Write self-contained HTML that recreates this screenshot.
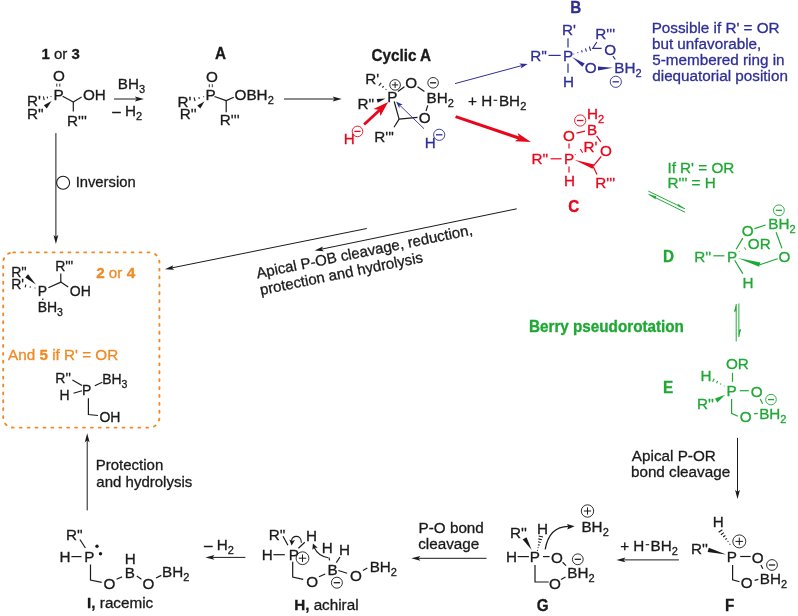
<!DOCTYPE html>
<html><head><meta charset="utf-8"><style>
html,body{margin:0;padding:0;background:#fff;}
svg{display:block;}
text{font-family:"Liberation Sans",sans-serif;}
</style></head><body>
<svg width="798" height="616" viewBox="0 0 798 616">
<rect width="798" height="616" fill="#fff"/>
<g opacity="0.999">
<text transform="translate(41.46,58.80) scale(1,1.0)" x="0" y="0" font-size="15" fill="#1a1a1a" stroke="#1a1a1a" stroke-width="0.3"><tspan font-weight="bold">1</tspan> or <tspan font-weight="bold">3</tspan></text>
<text transform="translate(52.88,81.00) scale(1,1.0)" x="0" y="0" font-size="15.25" fill="#1a1a1a" stroke="#1a1a1a" stroke-width="0.3">O</text>
<line x1="56.80" y1="83.60" x2="56.80" y2="86.60" stroke="#1a1a1a" stroke-width="0.9"/>
<line x1="59.80" y1="83.60" x2="59.80" y2="86.60" stroke="#1a1a1a" stroke-width="0.9"/>
<text transform="translate(53.45,100.20) scale(1,1.0)" x="0" y="0" font-size="15.25" fill="#1a1a1a" stroke="#1a1a1a" stroke-width="0.3">P</text>
<text transform="translate(26.95,106.00) scale(1,1.0)" x="0" y="0" font-size="15.25" fill="#1a1a1a" stroke="#1a1a1a" stroke-width="0.3">R'</text>
<line x1="51.09" y1="96.99" x2="50.91" y2="96.21" stroke="#1a1a1a" stroke-width="1.1"/>
<line x1="47.62" y1="98.37" x2="47.18" y2="96.53" stroke="#1a1a1a" stroke-width="1.1"/>
<line x1="44.24" y1="100.15" x2="43.36" y2="96.45" stroke="#1a1a1a" stroke-width="1.1"/>
<text transform="translate(26.95,119.10) scale(1,1.0)" x="0" y="0" font-size="15.25" fill="#1a1a1a" stroke="#1a1a1a" stroke-width="0.3">R''</text>
<polygon points="51.60,101.00 43.80,105.29 46.80,108.51" fill="#1a1a1a"/>
<text transform="translate(82.98,100.00) scale(1,1.0)" x="0" y="0" font-size="15.25" fill="#1a1a1a" stroke="#1a1a1a" stroke-width="0.3">OH</text>
<line x1="62.60" y1="96.30" x2="73.30" y2="102.00" stroke="#1a1a1a" stroke-width="1.2"/>
<line x1="73.30" y1="102.00" x2="81.60" y2="97.00" stroke="#1a1a1a" stroke-width="1.2"/>
<line x1="73.30" y1="102.00" x2="73.30" y2="111.40" stroke="#1a1a1a" stroke-width="1.2"/>
<text transform="translate(67.05,126.20) scale(1,1.0)" x="0" y="0" font-size="15.25" fill="#1a1a1a" stroke="#1a1a1a" stroke-width="0.3">R'''</text>
<text transform="translate(117.75,89.00) scale(1,1.0)" x="0" y="0" font-size="15.25" fill="#1a1a1a" stroke="#1a1a1a" stroke-width="0.3">BH<tspan font-size="11" dy="4">3</tspan></text>
<line x1="114.00" y1="99.00" x2="136.70" y2="99.00" stroke="#1a1a1a" stroke-width="1.0"/>
<polygon points="143.90,99.00 134.90,101.40 136.70,99.00 134.90,96.60" fill="#1a1a1a"/>
<text transform="translate(112.20,116.20) scale(1,1.0)" x="0" y="0" font-size="15.25" fill="#1a1a1a" stroke="#1a1a1a" stroke-width="0.3">– H<tspan font-size="11" dy="4">2</tspan></text>
<text transform="translate(214.92,58.50) scale(1,1.05)" x="0" y="0" font-size="15.25" fill="#1a1a1a" stroke="#1a1a1a" stroke-width="0.3" font-weight="bold">A</text>
<text transform="translate(206.08,81.80) scale(1,1.0)" x="0" y="0" font-size="15.25" fill="#1a1a1a" stroke="#1a1a1a" stroke-width="0.3">O</text>
<line x1="209.30" y1="84.20" x2="209.30" y2="87.20" stroke="#1a1a1a" stroke-width="0.9"/>
<line x1="212.30" y1="84.20" x2="212.30" y2="87.20" stroke="#1a1a1a" stroke-width="0.9"/>
<text transform="translate(205.55,99.70) scale(1,1.0)" x="0" y="0" font-size="15.25" fill="#1a1a1a" stroke="#1a1a1a" stroke-width="0.3">P</text>
<text transform="translate(177.55,107.00) scale(1,1.0)" x="0" y="0" font-size="15.25" fill="#1a1a1a" stroke="#1a1a1a" stroke-width="0.3">R'</text>
<line x1="203.70" y1="97.19" x2="203.50" y2="96.41" stroke="#1a1a1a" stroke-width="1.1"/>
<line x1="199.34" y1="98.92" x2="198.86" y2="97.08" stroke="#1a1a1a" stroke-width="1.1"/>
<line x1="195.09" y1="101.04" x2="194.11" y2="97.36" stroke="#1a1a1a" stroke-width="1.1"/>
<text transform="translate(179.75,119.40) scale(1,1.0)" x="0" y="0" font-size="15.25" fill="#1a1a1a" stroke="#1a1a1a" stroke-width="0.3">R''</text>
<polygon points="204.40,101.60 197.27,105.42 200.33,108.58" fill="#1a1a1a"/>
<text transform="translate(234.58,100.40) scale(1,1.0)" x="0" y="0" font-size="15.25" fill="#1a1a1a" stroke="#1a1a1a" stroke-width="0.3">OBH<tspan font-size="11" dy="4">2</tspan></text>
<line x1="214.50" y1="96.50" x2="226.20" y2="100.60" stroke="#1a1a1a" stroke-width="1.2"/>
<line x1="226.20" y1="100.60" x2="233.80" y2="97.20" stroke="#1a1a1a" stroke-width="1.2"/>
<line x1="226.20" y1="100.60" x2="226.20" y2="112.30" stroke="#1a1a1a" stroke-width="1.2"/>
<text transform="translate(219.85,125.30) scale(1,1.0)" x="0" y="0" font-size="15.25" fill="#1a1a1a" stroke="#1a1a1a" stroke-width="0.3">R'''</text>
<line x1="284.00" y1="99.00" x2="334.50" y2="99.00" stroke="#1a1a1a" stroke-width="1.0"/>
<polygon points="341.70,99.00 332.70,101.40 334.50,99.00 332.70,96.60" fill="#1a1a1a"/>
<text transform="translate(371.47,60.50) scale(1,1.05)" x="0" y="0" font-size="15.25" fill="#1a1a1a" stroke="#1a1a1a" stroke-width="0.3" font-weight="bold">Cyclic A</text>
<text transform="translate(365.25,83.80) scale(1,1.0)" x="0" y="0" font-size="15.25" fill="#1a1a1a" stroke="#1a1a1a" stroke-width="0.3">R'</text>
<line x1="385.74" y1="89.80" x2="386.26" y2="89.20" stroke="#1a1a1a" stroke-width="1.1"/>
<line x1="382.38" y1="87.62" x2="383.62" y2="86.18" stroke="#1a1a1a" stroke-width="1.1"/>
<line x1="378.76" y1="85.74" x2="381.24" y2="82.86" stroke="#1a1a1a" stroke-width="1.1"/>
<circle cx="395.10" cy="84.90" r="5.3" fill="none" stroke="#1a1a1a" stroke-width="0.9"/>
<line x1="392.03" y1="84.90" x2="398.17" y2="84.90" stroke="#1a1a1a" stroke-width="1.0"/>
<line x1="395.10" y1="81.83" x2="395.10" y2="87.97" stroke="#1a1a1a" stroke-width="1.0"/>
<text transform="translate(405.28,88.30) scale(1,1.0)" x="0" y="0" font-size="15.25" fill="#1a1a1a" stroke="#1a1a1a" stroke-width="0.3">O</text>
<circle cx="433.10" cy="82.80" r="5.3" fill="none" stroke="#1a1a1a" stroke-width="0.9"/>
<line x1="430.03" y1="82.80" x2="436.17" y2="82.80" stroke="#1a1a1a" stroke-width="1.3"/>
<text transform="translate(387.35,102.40) scale(1,1.0)" x="0" y="0" font-size="15.25" fill="#1a1a1a" stroke="#1a1a1a" stroke-width="0.3">P</text>
<text transform="translate(357.45,108.90) scale(1,1.0)" x="0" y="0" font-size="15.25" fill="#1a1a1a" stroke="#1a1a1a" stroke-width="0.3">R''</text>
<polygon points="385.50,98.60 376.69,99.07 377.71,102.73" fill="#1a1a1a"/>
<text transform="translate(426.55,103.30) scale(1,1.0)" x="0" y="0" font-size="15.25" fill="#1a1a1a" stroke="#1a1a1a" stroke-width="0.3">BH<tspan font-size="11" dy="4">2</tspan></text>
<text transform="translate(418.68,122.80) scale(1,1.0)" x="0" y="0" font-size="15.25" fill="#1a1a1a" stroke="#1a1a1a" stroke-width="0.3">O</text>
<line x1="397.90" y1="91.40" x2="404.40" y2="86.70" stroke="#1a1a1a" stroke-width="1.2"/>
<line x1="417.50" y1="86.70" x2="424.40" y2="91.60" stroke="#1a1a1a" stroke-width="1.2"/>
<line x1="427.80" y1="105.40" x2="426.00" y2="111.00" stroke="#1a1a1a" stroke-width="1.2"/>
<line x1="394.20" y1="101.50" x2="399.10" y2="119.10" stroke="#1a1a1a" stroke-width="1.2"/>
<line x1="399.10" y1="119.10" x2="417.50" y2="117.40" stroke="#1a1a1a" stroke-width="1.2"/>
<line x1="399.10" y1="119.10" x2="394.00" y2="127.30" stroke="#1a1a1a" stroke-width="1.2"/>
<text transform="translate(374.25,141.60) scale(1,1.0)" x="0" y="0" font-size="15.25" fill="#1a1a1a" stroke="#1a1a1a" stroke-width="0.3">R'''</text>
<text transform="translate(343.85,144.40) scale(1,1.0)" x="0" y="0" font-size="15.25" fill="#e8061a" stroke="#e8061a" stroke-width="0.3">H</text>
<circle cx="357.50" cy="131.40" r="5.3" fill="none" stroke="#e8061a" stroke-width="0.9"/>
<line x1="354.43" y1="131.40" x2="360.57" y2="131.40" stroke="#e8061a" stroke-width="1.3"/>
<line x1="364.10" y1="124.50" x2="379.78" y2="109.93" stroke="#e8061a" stroke-width="2.8"/>
<polygon points="388.20,102.10 380.25,116.31 379.78,109.93 373.44,108.99" fill="#e8061a"/>
<text transform="translate(424.65,147.90) scale(1,1.0)" x="0" y="0" font-size="15.25" fill="#2e2e98" stroke="#2e2e98" stroke-width="0.3">H</text>
<circle cx="439.20" cy="134.80" r="5.6" fill="none" stroke="#2e2e98" stroke-width="0.9"/>
<line x1="435.95" y1="134.80" x2="442.45" y2="134.80" stroke="#2e2e98" stroke-width="1.3"/>
<line x1="424.00" y1="128.70" x2="399.74" y2="105.22" stroke="#2e2e98" stroke-width="0.9"/>
<polygon points="396.00,101.60 402.77,104.67 399.74,105.22 399.29,108.26" fill="#2e2e98"/>
<text transform="translate(468.06,105.70) scale(1,1.0)" x="0" y="0" font-size="15.25" fill="#1a1a1a" stroke="#1a1a1a" stroke-width="0.3">+ H</text>
<line x1="493.60" y1="100.30" x2="497.20" y2="100.30" stroke="#1a1a1a" stroke-width="1.1"/>
<text transform="translate(498.95,105.70) scale(1,1.0)" x="0" y="0" font-size="15.25" fill="#1a1a1a" stroke="#1a1a1a" stroke-width="0.3">BH<tspan font-size="11" dy="4">2</tspan></text>
<line x1="455.00" y1="83.60" x2="521.71" y2="65.61" stroke="#2e2e98" stroke-width="1.0"/>
<polygon points="527.70,64.00 520.65,68.59 521.71,65.61 519.30,63.57" fill="#2e2e98"/>
<line x1="455.60" y1="116.60" x2="519.53" y2="138.25" stroke="#e8061a" stroke-width="3.0"/>
<polygon points="530.90,142.10 514.84,141.20 519.53,138.25 517.60,133.06" fill="#e8061a"/>
<text transform="translate(570.28,12.70) scale(1,1.05)" x="0" y="0" font-size="15.25" fill="#2e2e98" stroke="#2e2e98" stroke-width="0.3" font-weight="bold">B</text>
<text transform="translate(561.95,35.10) scale(1,1.0)" x="0" y="0" font-size="15.25" fill="#2e2e98" stroke="#2e2e98" stroke-width="0.3">R'</text>
<line x1="568.00" y1="38.30" x2="568.00" y2="47.40" stroke="#2e2e98" stroke-width="1.2"/>
<text transform="translate(562.95,61.40) scale(1,1.0)" x="0" y="0" font-size="15.25" fill="#2e2e98" stroke="#2e2e98" stroke-width="0.3">P</text>
<text transform="translate(530.15,61.40) scale(1,1.0)" x="0" y="0" font-size="15.25" fill="#2e2e98" stroke="#2e2e98" stroke-width="0.3">R''</text>
<line x1="548.50" y1="55.40" x2="560.70" y2="55.40" stroke="#2e2e98" stroke-width="1.2"/>
<line x1="568.00" y1="63.40" x2="568.00" y2="72.80" stroke="#2e2e98" stroke-width="1.2"/>
<text transform="translate(562.95,87.00) scale(1,1.0)" x="0" y="0" font-size="15.25" fill="#2e2e98" stroke="#2e2e98" stroke-width="0.3">H</text>
<text transform="translate(595.35,38.90) scale(1,1.0)" x="0" y="0" font-size="15.25" fill="#2e2e98" stroke="#2e2e98" stroke-width="0.3">R'''</text>
<text transform="translate(604.18,55.20) scale(1,1.0)" x="0" y="0" font-size="15.25" fill="#2e2e98" stroke="#2e2e98" stroke-width="0.3">O</text>
<polyline points="596.80,42.00 592.80,48.30 601.60,48.30" fill="none" stroke="#2e2e98" stroke-width="1.2" stroke-linejoin="miter"/>
<line x1="573.67" y1="53.62" x2="573.93" y2="54.38" stroke="#2e2e98" stroke-width="1.1"/>
<line x1="577.67" y1="52.12" x2="578.03" y2="53.18" stroke="#2e2e98" stroke-width="1.1"/>
<line x1="581.54" y1="50.23" x2="582.26" y2="52.37" stroke="#2e2e98" stroke-width="1.1"/>
<line x1="585.42" y1="48.35" x2="586.48" y2="51.55" stroke="#2e2e98" stroke-width="1.1"/>
<line x1="589.29" y1="46.47" x2="590.71" y2="50.73" stroke="#2e2e98" stroke-width="1.1"/>
<polygon points="572.10,57.00 582.33,66.82 584.67,63.58" fill="#2e2e98"/>
<text transform="translate(584.68,73.40) scale(1,1.0)" x="0" y="0" font-size="15.25" fill="#2e2e98" stroke="#2e2e98" stroke-width="0.3">O</text>
<polygon points="613.00,67.80 597.92,66.40 598.08,70.40" fill="#2e2e98"/>
<text transform="translate(614.35,73.10) scale(1,1.0)" x="0" y="0" font-size="15.25" fill="#2e2e98" stroke="#2e2e98" stroke-width="0.3">BH<tspan font-size="11" dy="4">2</tspan></text>
<circle cx="615.80" cy="81.80" r="5.6" fill="none" stroke="#2e2e98" stroke-width="0.9"/>
<line x1="612.55" y1="81.80" x2="619.05" y2="81.80" stroke="#2e2e98" stroke-width="1.3"/>
<line x1="612.90" y1="56.20" x2="615.30" y2="59.50" stroke="#2e2e98" stroke-width="1.2"/>
<text transform="translate(651.65,32.60) scale(1,1.0)" x="0" y="0" font-size="15.25" fill="#2e2e98" stroke="#2e2e98" stroke-width="0.3">Possible if R' = OR</text>
<text transform="translate(651.92,48.60) scale(1,1.0)" x="0" y="0" font-size="15.25" fill="#2e2e98" stroke="#2e2e98" stroke-width="0.3">but unfavorable,</text>
<text transform="translate(652.29,65.00) scale(1,1.0)" x="0" y="0" font-size="15.25" fill="#2e2e98" stroke="#2e2e98" stroke-width="0.3">5-membered ring in</text>
<text transform="translate(652.26,81.10) scale(1,1.0)" x="0" y="0" font-size="15.25" fill="#2e2e98" stroke="#2e2e98" stroke-width="0.3">diequatorial position</text>
<text transform="translate(587.05,118.50) scale(1,1.0)" x="0" y="0" font-size="15.25" fill="#e8061a" stroke="#e8061a" stroke-width="0.3">H<tspan font-size="11" dy="4">2</tspan></text>
<circle cx="580.20" cy="120.50" r="5.6" fill="none" stroke="#e8061a" stroke-width="0.9"/>
<line x1="576.95" y1="120.50" x2="583.45" y2="120.50" stroke="#e8061a" stroke-width="1.3"/>
<text transform="translate(587.05,134.50) scale(1,1.0)" x="0" y="0" font-size="15.25" fill="#e8061a" stroke="#e8061a" stroke-width="0.3">B</text>
<text transform="translate(562.88,141.40) scale(1,1.0)" x="0" y="0" font-size="15.25" fill="#e8061a" stroke="#e8061a" stroke-width="0.3">O</text>
<line x1="576.50" y1="133.10" x2="585.00" y2="131.10" stroke="#e8061a" stroke-width="1.2"/>
<line x1="596.60" y1="135.80" x2="600.80" y2="141.80" stroke="#e8061a" stroke-width="1.2"/>
<text transform="translate(600.08,155.80) scale(1,1.0)" x="0" y="0" font-size="15.25" fill="#e8061a" stroke="#e8061a" stroke-width="0.3">O</text>
<text transform="translate(583.45,151.80) scale(1,1.0)" x="0" y="0" font-size="15.25" fill="#e8061a" stroke="#e8061a" stroke-width="0.3">R'</text>
<line x1="575.09" y1="154.36" x2="575.51" y2="155.04" stroke="#e8061a" stroke-width="1.1"/>
<line x1="580.32" y1="148.98" x2="582.68" y2="152.82" stroke="#e8061a" stroke-width="1.1"/>
<text transform="translate(563.95,163.70) scale(1,1.0)" x="0" y="0" font-size="15.25" fill="#e8061a" stroke="#e8061a" stroke-width="0.3">P</text>
<line x1="569.00" y1="143.50" x2="569.00" y2="148.60" stroke="#e8061a" stroke-width="1.2"/>
<text transform="translate(531.45,163.70) scale(1,1.0)" x="0" y="0" font-size="15.25" fill="#e8061a" stroke="#e8061a" stroke-width="0.3">R''</text>
<line x1="550.60" y1="158.80" x2="561.60" y2="158.80" stroke="#e8061a" stroke-width="1.2"/>
<line x1="569.00" y1="166.50" x2="569.00" y2="172.40" stroke="#e8061a" stroke-width="1.2"/>
<text transform="translate(563.95,185.90) scale(1,1.0)" x="0" y="0" font-size="15.25" fill="#e8061a" stroke="#e8061a" stroke-width="0.3">H</text>
<polygon points="574.40,159.70 592.53,168.71 594.07,164.49" fill="#e8061a"/>
<line x1="593.30" y1="166.20" x2="601.20" y2="156.50" stroke="#e8061a" stroke-width="1.2"/>
<line x1="593.30" y1="166.80" x2="597.00" y2="174.50" stroke="#e8061a" stroke-width="1.2"/>
<text transform="translate(595.35,188.40) scale(1,1.0)" x="0" y="0" font-size="15.25" fill="#e8061a" stroke="#e8061a" stroke-width="0.3">R'''</text>
<text transform="translate(568.17,212.30) scale(1,1.05)" x="0" y="0" font-size="15.25" fill="#e8061a" stroke="#e8061a" stroke-width="0.3" font-weight="bold">C</text>
<line x1="648.30" y1="191.10" x2="685.10" y2="208.90" stroke="#1ea834" stroke-width="0.95"/>
<line x1="648.60" y1="194.30" x2="685.10" y2="212.30" stroke="#1ea834" stroke-width="0.95"/>
<polygon points="685.1,208.9 677.5,203.6 678.5,206.6" fill="#1ea834"/>
<polygon points="648.6,194.3 656.2,196.2 655.5,199.3" fill="#1ea834"/>
<text transform="translate(667.39,173.40) scale(1,1.0)" x="0" y="0" font-size="15.25" fill="#1ea834" stroke="#1ea834" stroke-width="0.3">If R' = OR</text>
<text transform="translate(667.55,187.90) scale(1,1.0)" x="0" y="0" font-size="15.25" fill="#1ea834" stroke="#1ea834" stroke-width="0.3">R''' = H</text>
<circle cx="778.90" cy="210.30" r="5.4" fill="none" stroke="#1ea834" stroke-width="0.9"/>
<line x1="775.77" y1="210.30" x2="782.03" y2="210.30" stroke="#1ea834" stroke-width="1.3"/>
<text transform="translate(768.35,228.80) scale(1,1.0)" x="0" y="0" font-size="15.25" fill="#1ea834" stroke="#1ea834" stroke-width="0.3">BH<tspan font-size="11" dy="4">2</tspan></text>
<text transform="translate(741.68,235.80) scale(1,1.0)" x="0" y="0" font-size="15.25" fill="#1ea834" stroke="#1ea834" stroke-width="0.3">O</text>
<line x1="754.40" y1="228.60" x2="765.70" y2="225.00" stroke="#1ea834" stroke-width="1.2"/>
<text transform="translate(747.78,249.40) scale(1,1.0)" x="0" y="0" font-size="15.25" fill="#1ea834" stroke="#1ea834" stroke-width="0.3">OR</text>
<line x1="739.00" y1="251.20" x2="739.60" y2="251.80" stroke="#1ea834" stroke-width="1.0"/>
<line x1="744.30" y1="247.40" x2="745.80" y2="249.80" stroke="#1ea834" stroke-width="1.0"/>
<text transform="translate(694.25,261.60) scale(1,1.0)" x="0" y="0" font-size="15.25" fill="#1ea834" stroke="#1ea834" stroke-width="0.3">R''</text>
<line x1="713.30" y1="255.80" x2="724.40" y2="255.80" stroke="#1ea834" stroke-width="1.2"/>
<text transform="translate(727.05,261.60) scale(1,1.0)" x="0" y="0" font-size="15.25" fill="#1ea834" stroke="#1ea834" stroke-width="0.3">P</text>
<line x1="736.20" y1="249.20" x2="742.80" y2="238.10" stroke="#1ea834" stroke-width="1.2"/>
<polygon points="737.70,258.10 759.16,266.86 760.44,262.54" fill="#1ea834"/>
<line x1="759.80" y1="264.70" x2="777.60" y2="258.80" stroke="#1ea834" stroke-width="1.2"/>
<text transform="translate(778.58,262.30) scale(1,1.0)" x="0" y="0" font-size="15.25" fill="#1ea834" stroke="#1ea834" stroke-width="0.3">O</text>
<line x1="776.10" y1="232.20" x2="782.00" y2="248.40" stroke="#1ea834" stroke-width="1.2"/>
<line x1="734.70" y1="260.30" x2="742.80" y2="273.60" stroke="#1ea834" stroke-width="1.2"/>
<text transform="translate(742.55,288.20) scale(1,1.0)" x="0" y="0" font-size="15.25" fill="#1ea834" stroke="#1ea834" stroke-width="0.3">H</text>
<text transform="translate(662.98,262.40) scale(1,1.05)" x="0" y="0" font-size="15.25" fill="#1ea834" stroke="#1ea834" stroke-width="0.3" font-weight="bold">D</text>
<text transform="translate(528.98,332.00) scale(1,1.05)" x="0" y="0" font-size="15.25" fill="#1ea834" stroke="#1ea834" stroke-width="0.3" font-weight="bold">Berry pseudorotation</text>
<line x1="736.20" y1="303.90" x2="736.20" y2="341.40" stroke="#1ea834" stroke-width="0.95"/>
<line x1="738.90" y1="303.50" x2="738.90" y2="337.00" stroke="#1ea834" stroke-width="0.95"/>
<polygon points="736.2,303.9 733.9,312 736.2,311" fill="#1ea834"/>
<polygon points="738.9,337 741.2,329 738.9,330" fill="#1ea834"/>
<text transform="translate(663.08,393.20) scale(1,1.05)" x="0" y="0" font-size="15.25" fill="#1ea834" stroke="#1ea834" stroke-width="0.3" font-weight="bold">E</text>
<text transform="translate(725.88,369.30) scale(1,1.0)" x="0" y="0" font-size="15.25" fill="#1ea834" stroke="#1ea834" stroke-width="0.3">OR</text>
<line x1="732.50" y1="372.80" x2="732.50" y2="381.80" stroke="#1ea834" stroke-width="1.2"/>
<text transform="translate(700.45,381.00) scale(1,1.0)" x="0" y="0" font-size="15.25" fill="#1ea834" stroke="#1ea834" stroke-width="0.3">H</text>
<line x1="724.01" y1="386.35" x2="724.39" y2="385.65" stroke="#1ea834" stroke-width="1.1"/>
<line x1="720.35" y1="384.59" x2="720.92" y2="383.54" stroke="#1ea834" stroke-width="1.1"/>
<line x1="716.49" y1="383.19" x2="717.64" y2="381.08" stroke="#1ea834" stroke-width="1.1"/>
<line x1="712.64" y1="381.78" x2="714.36" y2="378.62" stroke="#1ea834" stroke-width="1.1"/>
<text transform="translate(726.55,396.40) scale(1,1.0)" x="0" y="0" font-size="15.25" fill="#1ea834" stroke="#1ea834" stroke-width="0.3">P</text>
<line x1="739.80" y1="390.70" x2="748.80" y2="390.70" stroke="#1ea834" stroke-width="1.2"/>
<text transform="translate(750.68,397.00) scale(1,1.0)" x="0" y="0" font-size="15.25" fill="#1ea834" stroke="#1ea834" stroke-width="0.3">O</text>
<circle cx="771.00" cy="399.60" r="5.3" fill="none" stroke="#1ea834" stroke-width="0.9"/>
<line x1="767.93" y1="399.60" x2="774.07" y2="399.60" stroke="#1ea834" stroke-width="1.3"/>
<line x1="760.20" y1="398.90" x2="762.60" y2="403.80" stroke="#1ea834" stroke-width="1.2"/>
<text transform="translate(697.05,408.80) scale(1,1.0)" x="0" y="0" font-size="15.25" fill="#1ea834" stroke="#1ea834" stroke-width="0.3">R''</text>
<polygon points="725.20,394.80 715.00,398.60 717.40,402.40" fill="#1ea834"/>
<polyline points="731.60,398.90 731.60,413.40 737.80,416.20" fill="none" stroke="#1ea834" stroke-width="1.2" stroke-linejoin="miter"/>
<text transform="translate(739.78,421.50) scale(1,1.0)" x="0" y="0" font-size="15.25" fill="#1ea834" stroke="#1ea834" stroke-width="0.3">O</text>
<line x1="754.00" y1="413.90" x2="757.80" y2="413.40" stroke="#1ea834" stroke-width="1.2"/>
<text transform="translate(759.15,418.80) scale(1,1.0)" x="0" y="0" font-size="15.25" fill="#1ea834" stroke="#1ea834" stroke-width="0.3">BH<tspan font-size="11" dy="4">2</tspan></text>
<text transform="translate(631.87,460.50) scale(1,1.0)" x="0" y="0" font-size="15.25" fill="#1a1a1a" stroke="#1a1a1a" stroke-width="0.3">Apical P-OR</text>
<text transform="translate(630.92,477.20) scale(1,1.0)" x="0" y="0" font-size="15.25" fill="#1a1a1a" stroke="#1a1a1a" stroke-width="0.3">bond cleavage</text>
<line x1="737.50" y1="437.90" x2="737.50" y2="491.80" stroke="#1a1a1a" stroke-width="1.0"/>
<polygon points="737.50,499.00 735.10,490.00 737.50,491.80 739.90,490.00" fill="#1a1a1a"/>
<text transform="translate(712.65,527.20) scale(1,1.0)" x="0" y="0" font-size="15.25" fill="#1a1a1a" stroke="#1a1a1a" stroke-width="0.3">H</text>
<line x1="729.57" y1="544.43" x2="730.23" y2="543.97" stroke="#1a1a1a" stroke-width="1.1"/>
<line x1="727.65" y1="541.82" x2="728.39" y2="541.30" stroke="#1a1a1a" stroke-width="1.1"/>
<line x1="725.41" y1="539.44" x2="726.87" y2="538.40" stroke="#1a1a1a" stroke-width="1.1"/>
<line x1="723.16" y1="537.06" x2="725.36" y2="535.50" stroke="#1a1a1a" stroke-width="1.1"/>
<line x1="720.91" y1="534.68" x2="723.85" y2="532.60" stroke="#1a1a1a" stroke-width="1.1"/>
<line x1="718.67" y1="532.31" x2="722.33" y2="529.69" stroke="#1a1a1a" stroke-width="1.1"/>
<circle cx="739.30" cy="541.40" r="6.5" fill="none" stroke="#1a1a1a" stroke-width="0.9"/>
<line x1="735.53" y1="541.40" x2="743.07" y2="541.40" stroke="#1a1a1a" stroke-width="1.0"/>
<line x1="739.30" y1="537.63" x2="739.30" y2="545.17" stroke="#1a1a1a" stroke-width="1.0"/>
<text transform="translate(691.05,553.80) scale(1,1.0)" x="0" y="0" font-size="15.25" fill="#1a1a1a" stroke="#1a1a1a" stroke-width="0.3">R''</text>
<polygon points="726.10,554.60 708.77,547.72 707.63,552.08" fill="#1a1a1a"/>
<text transform="translate(726.75,562.10) scale(1,1.0)" x="0" y="0" font-size="15.25" fill="#1a1a1a" stroke="#1a1a1a" stroke-width="0.3">P</text>
<line x1="740.20" y1="556.50" x2="750.60" y2="556.50" stroke="#1a1a1a" stroke-width="1.2"/>
<text transform="translate(751.78,562.80) scale(1,1.0)" x="0" y="0" font-size="15.25" fill="#1a1a1a" stroke="#1a1a1a" stroke-width="0.3">O</text>
<circle cx="772.00" cy="565.00" r="5.4" fill="none" stroke="#1a1a1a" stroke-width="0.9"/>
<line x1="768.87" y1="565.00" x2="775.13" y2="565.00" stroke="#1a1a1a" stroke-width="1.3"/>
<line x1="760.90" y1="564.90" x2="762.80" y2="568.70" stroke="#1a1a1a" stroke-width="1.2"/>
<polyline points="732.60,564.90 732.60,579.70 739.50,581.80" fill="none" stroke="#1a1a1a" stroke-width="1.2" stroke-linejoin="miter"/>
<text transform="translate(740.68,587.50) scale(1,1.0)" x="0" y="0" font-size="15.25" fill="#1a1a1a" stroke="#1a1a1a" stroke-width="0.3">O</text>
<line x1="754.60" y1="580.30" x2="758.30" y2="579.30" stroke="#1a1a1a" stroke-width="1.2"/>
<text transform="translate(759.75,584.20) scale(1,1.0)" x="0" y="0" font-size="15.25" fill="#1a1a1a" stroke="#1a1a1a" stroke-width="0.3">BH<tspan font-size="11" dy="4">2</tspan></text>
<text transform="translate(725.08,611.00) scale(1,1.05)" x="0" y="0" font-size="15.25" fill="#1a1a1a" stroke="#1a1a1a" stroke-width="0.3" font-weight="bold">F</text>
<text transform="translate(620.16,550.70) scale(1,1.0)" x="0" y="0" font-size="15.25" fill="#1a1a1a" stroke="#1a1a1a" stroke-width="0.3">+ H</text>
<line x1="645.70" y1="544.70" x2="649.20" y2="544.70" stroke="#1a1a1a" stroke-width="1.1"/>
<text transform="translate(650.55,550.70) scale(1,1.0)" x="0" y="0" font-size="15.25" fill="#1a1a1a" stroke="#1a1a1a" stroke-width="0.3">BH<tspan font-size="11" dy="4">2</tspan></text>
<line x1="678.90" y1="559.90" x2="623.60" y2="559.90" stroke="#1a1a1a" stroke-width="1.0"/>
<polygon points="616.40,559.90 625.40,557.50 623.60,559.90 625.40,562.30" fill="#1a1a1a"/>
<circle cx="587.50" cy="511.00" r="6.2" fill="none" stroke="#1a1a1a" stroke-width="0.9"/>
<line x1="583.90" y1="511.00" x2="591.10" y2="511.00" stroke="#1a1a1a" stroke-width="1.0"/>
<line x1="587.50" y1="507.40" x2="587.50" y2="514.60" stroke="#1a1a1a" stroke-width="1.0"/>
<text transform="translate(581.45,531.80) scale(1,1.0)" x="0" y="0" font-size="15.25" fill="#1a1a1a" stroke="#1a1a1a" stroke-width="0.3">BH<tspan font-size="11" dy="4">2</tspan></text>
<path d="M545.2,549.4 Q549,526.5 568.5,526.3" fill="none" stroke="#1a1a1a" stroke-width="1.25"/>
<polygon points="574.60,526.30 567.25,529.47 568.31,526.61 566.97,523.88" fill="#1a1a1a"/>
<text transform="translate(536.95,533.70) scale(1,1.0)" x="0" y="0" font-size="15.25" fill="#1a1a1a" stroke="#1a1a1a" stroke-width="0.3">H</text>
<line x1="537.01" y1="550.41" x2="537.79" y2="550.59" stroke="#1a1a1a" stroke-width="1.1"/>
<line x1="537.64" y1="547.59" x2="538.52" y2="547.81" stroke="#1a1a1a" stroke-width="1.1"/>
<line x1="537.89" y1="544.69" x2="539.63" y2="545.11" stroke="#1a1a1a" stroke-width="1.1"/>
<line x1="538.13" y1="541.78" x2="540.75" y2="542.42" stroke="#1a1a1a" stroke-width="1.1"/>
<line x1="538.37" y1="538.88" x2="541.87" y2="539.72" stroke="#1a1a1a" stroke-width="1.1"/>
<line x1="538.61" y1="535.97" x2="542.99" y2="537.03" stroke="#1a1a1a" stroke-width="1.1"/>
<text transform="translate(510.05,538.40) scale(1,1.0)" x="0" y="0" font-size="15.25" fill="#1a1a1a" stroke="#1a1a1a" stroke-width="0.3">R''</text>
<polygon points="531.60,549.80 526.52,537.13 522.68,539.47" fill="#1a1a1a"/>
<text transform="translate(506.05,562.10) scale(1,1.0)" x="0" y="0" font-size="15.25" fill="#1a1a1a" stroke="#1a1a1a" stroke-width="0.3">H</text>
<line x1="517.60" y1="556.60" x2="528.90" y2="556.60" stroke="#1a1a1a" stroke-width="1.2"/>
<text transform="translate(529.65,562.10) scale(1,1.0)" x="0" y="0" font-size="15.25" fill="#1a1a1a" stroke="#1a1a1a" stroke-width="0.3">P</text>
<line x1="543.00" y1="556.60" x2="549.60" y2="556.60" stroke="#1a1a1a" stroke-width="1.2"/>
<text transform="translate(550.88,563.00) scale(1,1.0)" x="0" y="0" font-size="15.25" fill="#1a1a1a" stroke="#1a1a1a" stroke-width="0.3">O</text>
<circle cx="577.80" cy="559.30" r="5.4" fill="none" stroke="#1a1a1a" stroke-width="0.9"/>
<line x1="574.67" y1="559.30" x2="580.93" y2="559.30" stroke="#1a1a1a" stroke-width="1.3"/>
<line x1="562.60" y1="562.30" x2="566.00" y2="565.60" stroke="#1a1a1a" stroke-width="1.2"/>
<polyline points="535.00,565.00 535.00,582.00 548.70,582.00" fill="none" stroke="#1a1a1a" stroke-width="1.2" stroke-linejoin="miter"/>
<text transform="translate(548.98,589.30) scale(1,1.0)" x="0" y="0" font-size="15.25" fill="#1a1a1a" stroke="#1a1a1a" stroke-width="0.3">O</text>
<line x1="561.00" y1="579.50" x2="565.50" y2="577.00" stroke="#1a1a1a" stroke-width="1.2"/>
<text transform="translate(567.25,578.40) scale(1,1.0)" x="0" y="0" font-size="15.25" fill="#1a1a1a" stroke="#1a1a1a" stroke-width="0.3">BH<tspan font-size="11" dy="4">2</tspan></text>
<text transform="translate(536.77,611.20) scale(1,1.05)" x="0" y="0" font-size="15.25" fill="#1a1a1a" stroke="#1a1a1a" stroke-width="0.3" font-weight="bold">G</text>
<text transform="translate(418.55,533.20) scale(1,1.0)" x="0" y="0" font-size="15.25" fill="#1a1a1a" stroke="#1a1a1a" stroke-width="0.3">P-O bond</text>
<text transform="translate(418.15,549.30) scale(1,1.0)" x="0" y="0" font-size="15.25" fill="#1a1a1a" stroke="#1a1a1a" stroke-width="0.3">cleavage</text>
<line x1="486.50" y1="558.30" x2="418.50" y2="558.30" stroke="#1a1a1a" stroke-width="1.0"/>
<polygon points="411.30,558.30 420.30,555.90 418.50,558.30 420.30,560.70" fill="#1a1a1a"/>
<text transform="translate(268.65,539.60) scale(1,1.0)" x="0" y="0" font-size="15.25" fill="#1a1a1a" stroke="#1a1a1a" stroke-width="0.3">R''</text>
<line x1="283.00" y1="536.30" x2="287.90" y2="545.30" stroke="#1a1a1a" stroke-width="1.2"/>
<path d="M301.4,542.7 C301.5,537 298,536.2 295.8,536.4 C293,536.6 291.5,538.5 291.7,541" fill="none" stroke="#1a1a1a" stroke-width="1.1"/>
<polygon points="291.60,545.60 289.29,539.54 292.06,541.02 295.06,540.12" fill="#1a1a1a"/>
<text transform="translate(306.05,541.00) scale(1,1.0)" x="0" y="0" font-size="15.25" fill="#1a1a1a" stroke="#1a1a1a" stroke-width="0.3">H</text>
<line x1="298.40" y1="548.30" x2="304.80" y2="542.30" stroke="#1a1a1a" stroke-width="1.2"/>
<text transform="translate(261.75,559.80) scale(1,1.0)" x="0" y="0" font-size="15.25" fill="#1a1a1a" stroke="#1a1a1a" stroke-width="0.3">H</text>
<line x1="273.40" y1="554.70" x2="284.80" y2="554.70" stroke="#1a1a1a" stroke-width="1.2"/>
<text transform="translate(288.75,559.60) scale(1,1.0)" x="0" y="0" font-size="15.25" fill="#1a1a1a" stroke="#1a1a1a" stroke-width="0.3">P</text>
<circle cx="302.50" cy="558.20" r="6.4" fill="none" stroke="#1a1a1a" stroke-width="0.9"/>
<line x1="298.79" y1="558.20" x2="306.21" y2="558.20" stroke="#1a1a1a" stroke-width="1.0"/>
<line x1="302.50" y1="554.49" x2="302.50" y2="561.91" stroke="#1a1a1a" stroke-width="1.0"/>
<text transform="translate(321.85,553.00) scale(1,1.0)" x="0" y="0" font-size="15.25" fill="#1a1a1a" stroke="#1a1a1a" stroke-width="0.3">H</text>
<text transform="translate(338.95,554.50) scale(1,1.0)" x="0" y="0" font-size="15.25" fill="#1a1a1a" stroke="#1a1a1a" stroke-width="0.3">H</text>
<path d="M328.1,557.7 C321,556.5 316.5,552.5 314.2,547.5" fill="none" stroke="#1a1a1a" stroke-width="1.1"/>
<polygon points="312.90,543.40 317.75,547.71 314.61,547.67 312.36,549.86" fill="#1a1a1a"/>
<line x1="328.90" y1="557.30" x2="329.60" y2="560.30" stroke="#1a1a1a" stroke-width="1.2"/>
<line x1="340.00" y1="557.00" x2="336.30" y2="562.60" stroke="#1a1a1a" stroke-width="1.2"/>
<text transform="translate(327.55,574.70) scale(1,1.0)" x="0" y="0" font-size="15.25" fill="#1a1a1a" stroke="#1a1a1a" stroke-width="0.3">B</text>
<circle cx="336.90" cy="582.70" r="5.5" fill="none" stroke="#1a1a1a" stroke-width="0.9"/>
<line x1="333.71" y1="582.70" x2="340.09" y2="582.70" stroke="#1a1a1a" stroke-width="1.3"/>
<polyline points="292.70,561.80 292.70,577.00 303.20,579.30" fill="none" stroke="#1a1a1a" stroke-width="1.2" stroke-linejoin="miter"/>
<text transform="translate(306.18,587.00) scale(1,1.0)" x="0" y="0" font-size="15.25" fill="#1a1a1a" stroke="#1a1a1a" stroke-width="0.3">O</text>
<line x1="319.00" y1="576.70" x2="325.20" y2="574.00" stroke="#1a1a1a" stroke-width="1.2"/>
<line x1="338.30" y1="570.50" x2="347.10" y2="573.20" stroke="#1a1a1a" stroke-width="1.2"/>
<text transform="translate(349.98,581.40) scale(1,1.0)" x="0" y="0" font-size="15.25" fill="#1a1a1a" stroke="#1a1a1a" stroke-width="0.3">O</text>
<line x1="362.90" y1="570.50" x2="367.30" y2="567.90" stroke="#1a1a1a" stroke-width="1.2"/>
<text transform="translate(369.65,572.10) scale(1,1.0)" x="0" y="0" font-size="15.25" fill="#1a1a1a" stroke="#1a1a1a" stroke-width="0.3">BH<tspan font-size="11" dy="4">2</tspan></text>
<text transform="translate(294.15,609.80) scale(1,1.0)" x="0" y="0" font-size="15.25" fill="#1a1a1a" stroke="#1a1a1a" stroke-width="0.3"><tspan font-weight="bold">H,</tspan> achiral</text>
<text transform="translate(204.00,549.80) scale(1,1.0)" x="0" y="0" font-size="15.25" fill="#1a1a1a" stroke="#1a1a1a" stroke-width="0.3">– H<tspan font-size="11" dy="4">2</tspan></text>
<line x1="245.40" y1="557.40" x2="212.60" y2="557.40" stroke="#1a1a1a" stroke-width="1.0"/>
<polygon points="205.40,557.40 214.40,555.00 212.60,557.40 214.40,559.80" fill="#1a1a1a"/>
<text transform="translate(65.95,540.20) scale(1,1.0)" x="0" y="0" font-size="15.25" fill="#1a1a1a" stroke="#1a1a1a" stroke-width="0.3">R''</text>
<line x1="79.90" y1="539.50" x2="85.40" y2="548.00" stroke="#1a1a1a" stroke-width="1.2"/>
<text transform="translate(59.45,561.90) scale(1,1.0)" x="0" y="0" font-size="15.25" fill="#1a1a1a" stroke="#1a1a1a" stroke-width="0.3">H</text>
<line x1="71.40" y1="556.60" x2="81.50" y2="556.60" stroke="#1a1a1a" stroke-width="1.2"/>
<text transform="translate(84.35,561.90) scale(1,1.0)" x="0" y="0" font-size="15.25" fill="#1a1a1a" stroke="#1a1a1a" stroke-width="0.3">P</text>
<circle cx="97" cy="546.3" r="1.7" fill="#1a1a1a"/><circle cx="100.5" cy="553.8" r="1.7" fill="#1a1a1a"/>
<polyline points="90.50,564.40 90.50,580.00 101.70,582.30" fill="none" stroke="#1a1a1a" stroke-width="1.2" stroke-linejoin="miter"/>
<text transform="translate(103.58,589.00) scale(1,1.0)" x="0" y="0" font-size="15.25" fill="#1a1a1a" stroke="#1a1a1a" stroke-width="0.3">O</text>
<line x1="116.50" y1="579.20" x2="122.00" y2="576.90" stroke="#1a1a1a" stroke-width="1.2"/>
<text transform="translate(124.85,564.20) scale(1,1.0)" x="0" y="0" font-size="15.25" fill="#1a1a1a" stroke="#1a1a1a" stroke-width="0.3">H</text>
<text transform="translate(124.85,578.20) scale(1,1.0)" x="0" y="0" font-size="15.25" fill="#1a1a1a" stroke="#1a1a1a" stroke-width="0.3">B</text>
<line x1="136.80" y1="576.00" x2="141.40" y2="579.20" stroke="#1a1a1a" stroke-width="1.2"/>
<text transform="translate(142.48,588.80) scale(1,1.0)" x="0" y="0" font-size="15.25" fill="#1a1a1a" stroke="#1a1a1a" stroke-width="0.3">O</text>
<line x1="156.00" y1="578.00" x2="161.30" y2="575.40" stroke="#1a1a1a" stroke-width="1.2"/>
<text transform="translate(162.05,577.10) scale(1,1.0)" x="0" y="0" font-size="15.25" fill="#1a1a1a" stroke="#1a1a1a" stroke-width="0.3">BH<tspan font-size="11" dy="4">2</tspan></text>
<text transform="translate(87.09,607.80) scale(1,1.0)" x="0" y="0" font-size="15.25" fill="#1a1a1a" stroke="#1a1a1a" stroke-width="0.3"><tspan font-weight="bold">I,</tspan> racemic</text>
<line x1="87.20" y1="510.40" x2="87.20" y2="440.40" stroke="#1a1a1a" stroke-width="1.0"/>
<polygon points="87.20,433.20 89.60,442.20 87.20,440.40 84.80,442.20" fill="#1a1a1a"/>
<text transform="translate(95.77,469.80) scale(1,1.0)" x="0" y="0" font-size="15" fill="#1a1a1a" stroke="#1a1a1a" stroke-width="0.3">Protection</text>
<text transform="translate(96.36,487.30) scale(1,1.0)" x="0" y="0" font-size="15" fill="#1a1a1a" stroke="#1a1a1a" stroke-width="0.3">and hydrolysis</text>
<line x1="55.90" y1="133.10" x2="55.90" y2="236.70" stroke="#1a1a1a" stroke-width="1.0"/>
<polygon points="55.90,243.90 53.50,234.90 55.90,236.70 58.30,234.90" fill="#1a1a1a"/>
<circle cx="63.1" cy="182.8" r="6.5" fill="none" stroke="#1a1a1a" stroke-width="1.1"/>
<text transform="translate(75.63,186.80) scale(1,1.0)" x="0" y="0" font-size="14.8" fill="#1a1a1a" stroke="#1a1a1a" stroke-width="0.3">Inversion</text>
<rect x="3.2" y="252.4" width="156.2" height="175.2" rx="10" fill="none" stroke="#f08a24" stroke-width="1.9" stroke-dasharray="1.9 6" stroke-linecap="round"/>
<text transform="translate(55.15,271.20) scale(1,1.0)" x="0" y="0" font-size="14" fill="#1a1a1a" stroke="#1a1a1a" stroke-width="0.3">R'''</text>
<text transform="translate(11.15,277.40) scale(1,1.0)" x="0" y="0" font-size="14" fill="#1a1a1a" stroke="#1a1a1a" stroke-width="0.3">R''</text>
<text transform="translate(11.15,288.60) scale(1,1.0)" x="0" y="0" font-size="14" fill="#1a1a1a" stroke="#1a1a1a" stroke-width="0.3">R'</text>
<polygon points="35.90,284.40 28.02,274.35 25.18,277.45" fill="#1a1a1a"/>
<line x1="34.92" y1="288.39" x2="35.08" y2="287.61" stroke="#1a1a1a" stroke-width="1.1"/>
<line x1="30.10" y1="287.73" x2="30.40" y2="286.27" stroke="#1a1a1a" stroke-width="1.1"/>
<line x1="25.19" y1="287.47" x2="25.81" y2="284.53" stroke="#1a1a1a" stroke-width="1.1"/>
<text transform="translate(37.65,296.00) scale(1,1.0)" x="0" y="0" font-size="14" fill="#1a1a1a" stroke="#1a1a1a" stroke-width="0.3">P</text>
<line x1="48.40" y1="287.70" x2="60.80" y2="282.10" stroke="#1a1a1a" stroke-width="1.2"/>
<line x1="60.80" y1="273.60" x2="60.80" y2="282.10" stroke="#1a1a1a" stroke-width="1.2"/>
<line x1="60.80" y1="282.10" x2="68.20" y2="287.10" stroke="#1a1a1a" stroke-width="1.2"/>
<text transform="translate(69.74,296.00) scale(1,1.0)" x="0" y="0" font-size="14" fill="#1a1a1a" stroke="#1a1a1a" stroke-width="0.3">OH</text>
<line x1="42.80" y1="298.40" x2="42.80" y2="300.10" stroke="#1a1a1a" stroke-width="1.2"/>
<text transform="translate(37.65,311.80) scale(1,1.0)" x="0" y="0" font-size="14" fill="#1a1a1a" stroke="#1a1a1a" stroke-width="0.3">BH<tspan font-size="10.5" dy="4">3</tspan></text>
<text transform="translate(96.13,277.70) scale(1,1.0)" x="0" y="0" font-size="15.25" fill="#f08a24" stroke="#f08a24" stroke-width="0.3"><tspan font-weight="bold">2</tspan> or <tspan font-weight="bold">4</tspan></text>
<text transform="translate(8.07,359.60) scale(1,1.0)" x="0" y="0" font-size="15.25" fill="#f08a24" stroke="#f08a24" stroke-width="0.3">And <tspan font-weight="bold">5</tspan> if R' = OR</text>
<text transform="translate(55.35,383.10) scale(1,1.0)" x="0" y="0" font-size="14" fill="#1a1a1a" stroke="#1a1a1a" stroke-width="0.3">R''</text>
<line x1="72.40" y1="380.00" x2="82.00" y2="385.40" stroke="#1a1a1a" stroke-width="1.2"/>
<text transform="translate(102.15,384.10) scale(1,1.0)" x="0" y="0" font-size="14" fill="#1a1a1a" stroke="#1a1a1a" stroke-width="0.3">BH<tspan font-size="10.5" dy="4">3</tspan></text>
<line x1="94.80" y1="385.80" x2="102.30" y2="382.20" stroke="#1a1a1a" stroke-width="1.2"/>
<text transform="translate(59.55,400.10) scale(1,1.0)" x="0" y="0" font-size="14" fill="#1a1a1a" stroke="#1a1a1a" stroke-width="0.3">H</text>
<line x1="73.50" y1="393.30" x2="82.00" y2="390.70" stroke="#1a1a1a" stroke-width="1.2"/>
<text transform="translate(81.95,394.80) scale(1,1.0)" x="0" y="0" font-size="14" fill="#1a1a1a" stroke="#1a1a1a" stroke-width="0.3">P</text>
<polyline points="88.40,398.20 88.40,414.50 98.00,415.50" fill="none" stroke="#1a1a1a" stroke-width="1.2" stroke-linejoin="miter"/>
<text transform="translate(99.44,421.80) scale(1,1.0)" x="0" y="0" font-size="14" fill="#1a1a1a" stroke="#1a1a1a" stroke-width="0.3">OH</text>
<line x1="516.70" y1="208.80" x2="321.65" y2="249.14" stroke="#1a1a1a" stroke-width="1.0"/>
<polygon points="314.60,250.60 322.93,246.43 321.65,249.14 323.90,251.13" fill="#1a1a1a"/>
<line x1="366.80" y1="228.50" x2="171.96" y2="267.87" stroke="#1a1a1a" stroke-width="1.0"/>
<polygon points="164.90,269.30 173.25,265.16 171.96,267.87 174.20,269.87" fill="#1a1a1a"/>
<g transform="translate(257.6,278.6) rotate(-11.5)">
<text transform="translate(-0.03,-0.20) scale(1,1.0)" x="0" y="0" font-size="15" fill="#1a1a1a" stroke="#1a1a1a" stroke-width="0.3">Apical P-OB cleavage, reduction,</text>
<text transform="translate(0.03,16.80) scale(1,1.0)" x="0" y="0" font-size="15" fill="#1a1a1a" stroke="#1a1a1a" stroke-width="0.3">protection and hydrolysis</text>
</g>
</g>
</svg></body></html>
